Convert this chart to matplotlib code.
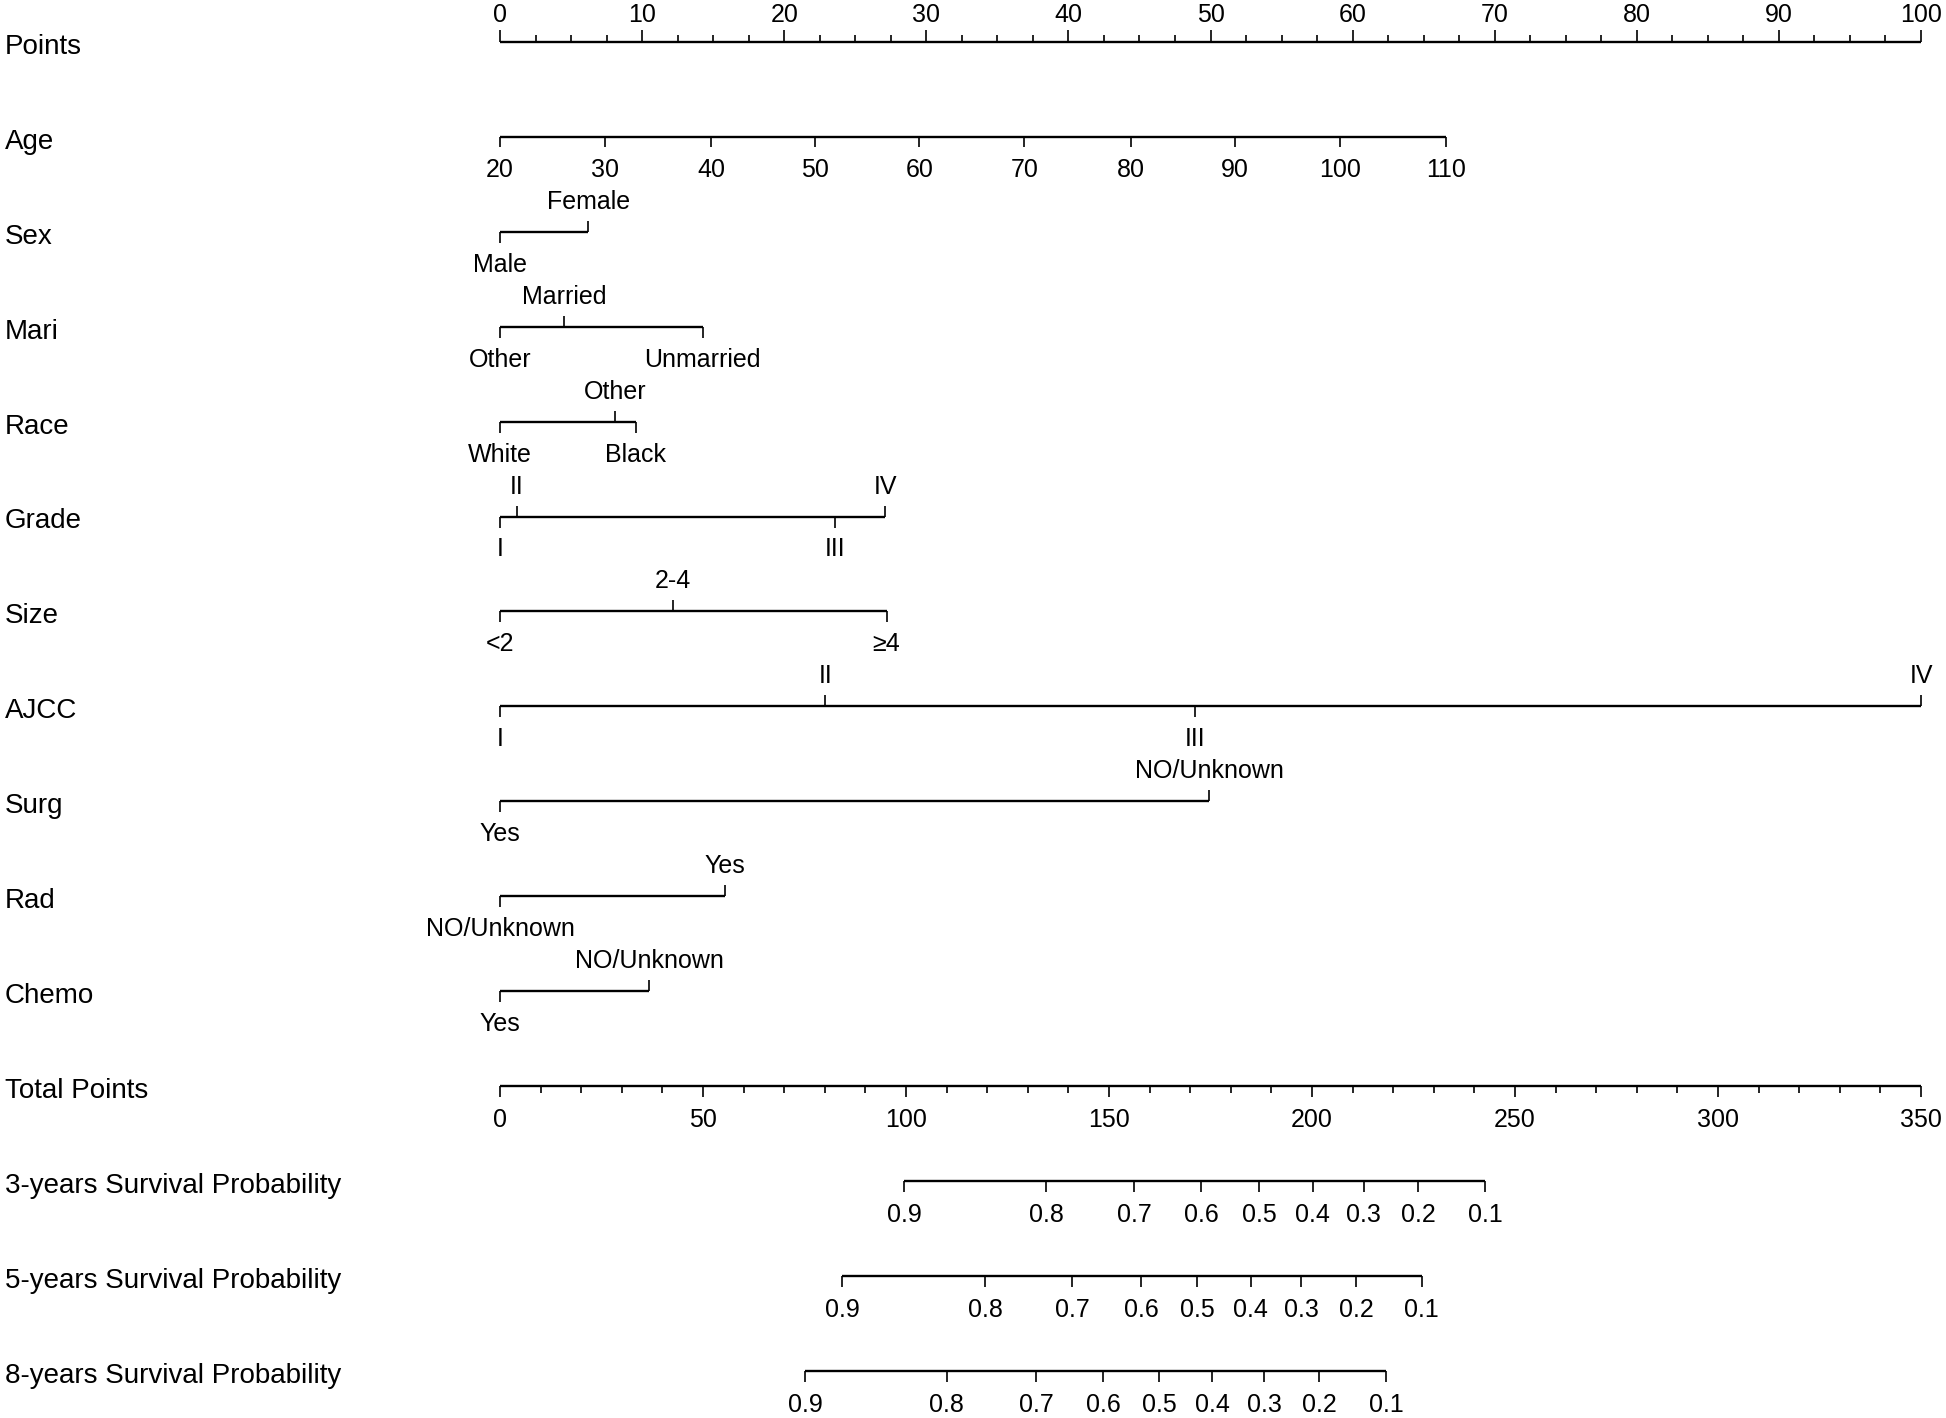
import matplotlib
matplotlib.use("Agg")
import matplotlib.pyplot as plt
import numpy as np

plt.rcParams['font.family'] = ['Liberation Sans', 'DejaVu Sans']

# ---------------- data ----------------
row_labels = ["Points", "Age", "Sex", "Mari", "Race", "Grade", "Size", "AJCC",
              "Surg", "Rad", "Chemo", "Total Points",
              "3-years Survival Probability", "5-years Survival Probability",
              "8-years Survival Probability"]

age_values = [20, 30, 40, 50, 60, 70, 80, 90, 100, 110]
age_points = [0, 7.42, 14.85, 22.2, 29.5, 36.9, 44.4, 51.7, 59.1, 66.55]

sex_levels = ["Male", "Female"]
sex_points = [0, 6.2]

mari_levels = ["Other", "Married", "Unmarried"]
mari_points = [0, 4.5, 14.27]

race_levels = ["White", "Other", "Black"]
race_points = [0, 8.1, 9.56]

grade_levels = ["I", "II", "III", "IV"]
grade_points = [0, 1.2, 23.6, 27.1]

size_levels = ["<2", "2-4", "\u22654"]
size_points = [0, 12.16, 27.2]

ajcc_levels = ["I", "II", "III", "IV"]
ajcc_points = [0, 22.9, 48.9, 100]

surg_levels = ["Yes", "NO/Unknown"]
surg_points = [0, 49.9]

rad_levels = ["NO/Unknown", "Yes"]
rad_points = [0, 15.8]

chemo_levels = ["Yes", "NO/Unknown"]
chemo_points = [0, 10.5]

surv_probs = [0.9, 0.8, 0.7, 0.6, 0.5, 0.4, 0.3, 0.2, 0.1]
surv3_total = [99.6, 134.5, 156.2, 172.7, 187.0, 200.2, 212.7, 226.1, 242.6]
surv5_total = [84.3, 119.5, 140.9, 158.0, 171.7, 184.9, 197.4, 210.9, 227.0]
surv8_total = [75.2, 110.0, 132.0, 148.5, 162.3, 175.4, 188.3, 201.7, 218.2]

points_max = 100
total_max = 350

# ---------------- layout ----------------
W, H, DPI = 1946, 1418, 100
X0, PX_PER_PT = 500.0, 14.21      # pixel of 0 points, pixels per point
Y0, ROW = 42.0, 94.9              # pixel of first row, row spacing

fig = plt.figure(figsize=(W / DPI, H / DPI), dpi=DPI)
ax = fig.add_axes([0, 0, 1, 1])
ax.set_xlim(-X0 / PX_PER_PT, (W - X0) / PX_PER_PT)
ax.set_ylim((H - Y0) / ROW, -Y0 / ROW)
ax.axis('off')

LW_LINE = 1.7
LW_TICK = 1.2
FS_ROW = 20
FS_TICK = 18


def py(px):  # pixel offset -> row units
    return px / ROW


def hline(row, x0, x1):
    ax.plot([x0, x1], [row, row], color='black', lw=LW_LINE, solid_capstyle='butt')


def tick(row, x, length_px, up):
    d = -py(length_px) if up else py(length_px)
    ax.plot([x, x], [row, row + d], color='black', lw=LW_TICK, solid_capstyle='butt')


def label(row, x, s, up, off_px):
    y = row - py(off_px) if up else row + py(off_px)
    ax.text(x, y, s, ha='center', va='center', fontsize=FS_TICK)


# row labels
for i, name in enumerate(row_labels):
    ax.text(-495 / PX_PER_PT, i + py(5), name, ha='left', va='center', fontsize=FS_ROW)

# Points axis (ticks up, labels above)
r = 0
hline(r, 0, points_max)
for v in np.arange(0, points_max + 0.01, 2.5):
    major = abs(v % 10) < 1e-9
    tick(r, v, 12 if major else 7, up=True)
    if major:
        label(r, v, f"{int(v)}", up=True, off_px=27)

# Age (ticks down, labels below)
r = 1
hline(r, age_points[0], age_points[-1])
for v, p in zip(age_values, age_points):
    tick(r, p, 10, up=False)
    label(r, p, str(v), up=False, off_px=33)


# categorical rows: alternate below / above
def cat_row(r, levels, pts):
    hline(r, min(pts), max(pts))
    for k, (lev, p) in enumerate(zip(levels, pts)):
        up = (k % 2 == 1)
        tick(r, p, 11, up=up)
        label(r, p, lev, up=up, off_px=30 if up else 33)


cat_row(2, sex_levels, sex_points)
cat_row(3, mari_levels, mari_points)
cat_row(4, race_levels, race_points)
cat_row(5, grade_levels, grade_points)
cat_row(6, size_levels, size_points)
cat_row(7, ajcc_levels, ajcc_points)
cat_row(8, surg_levels, surg_points)
cat_row(9, rad_levels, rad_points)
cat_row(10, chemo_levels, chemo_points)

# Total points axis
r = 11
scale = points_max / total_max
hline(r, 0, total_max * scale)
for v in np.arange(0, total_max + 0.01, 10):
    major = abs(v % 50) < 1e-9
    tick(r, v * scale, 11 if major else 7, up=False)
    if major:
        label(r, v * scale, f"{int(v)}", up=False, off_px=34)

# survival rows
for r, tot in zip([12, 13, 14], [surv3_total, surv5_total, surv8_total]):
    xs = [t * scale for t in tot]
    hline(r, min(xs), max(xs))
    for pr, x in zip(surv_probs, xs):
        tick(r, x, 11, up=False)
        label(r, x, f"{pr:.1f}", up=False, off_px=34)

fig.savefig("out.png", dpi=DPI)
